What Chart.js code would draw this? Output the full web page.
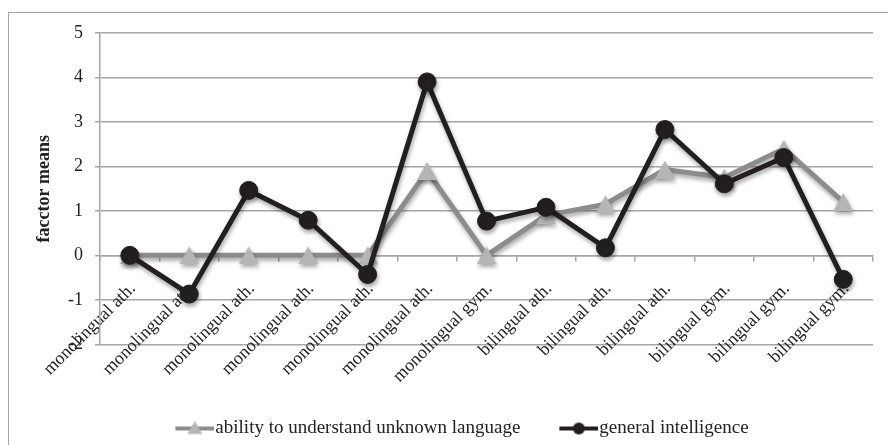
<!DOCTYPE html>
<html>
<head>
<meta charset="utf-8">
<title>facctor means</title>
<script src="https://cdn.jsdelivr.net/npm/chart.js@4.4.1/dist/chart.umd.min.js"></script>
<style>
  html, body { margin: 0; padding: 0; background: #fff; overflow: hidden; }
  #frame { position: absolute; left: 8px; top: 12px; width: 940px; height: 480px; border: 1.5px solid #a3a3a3; }
  #wrap { position: absolute; left: 0; top: 0; width: 888px; height: 445px; }
</style>
</head>
<body>
<div id="frame"></div>
<div id="wrap"><canvas id="chart"></canvas></div>
<script>
'use strict';

// --- data ---
const categories = [
    'monolingual ath.', 'monolingual ath.', 'monolingual ath.', 'monolingual ath.',
    'monolingual ath.', 'monolingual ath.', 'monolingual gym.',
    'bilingual ath.', 'bilingual ath.', 'bilingual ath.',
    'bilingual gym.', 'bilingual gym.', 'bilingual gym.'
];
const abilityValues = [0, 0, 0, 0, 0, 1.9, 0, 0.9, 1.15, 1.93, 1.75, 2.4, 1.2];
const intelligenceValues = [0, -0.87, 1.46, 0.79, -0.43, 3.9, 0.77, 1.08, 0.17, 2.83, 1.61, 2.2, -0.54];
const seriesNames = ['ability to understand unknown language', 'general intelligence'];
const yMin = -2;
const yMax = 5;
const yStep = 1;

const SERIF = '"Liberation Serif", "Times New Roman", serif';
const INK = '#231f20';
const TEXT = '#222222';
const GREY_LINE = '#8c8c8c';
const GREY_MARK = '#b5b5b5';
const GRID = '#a6a6a6';

function drawTriangle(g, cx, cy, w, h) {
    g.fillStyle = GREY_MARK;
    g.beginPath();
    g.moveTo(cx, cy - h / 2);
    g.lineTo(cx + w / 2, cy + h / 2);
    g.lineTo(cx - w / 2, cy + h / 2);
    g.closePath();
    g.fill();
}

function drawDot(g, cx, cy, r) {
    g.fillStyle = INK;
    g.beginPath();
    g.arc(cx, cy, r, 0, Math.PI * 2);
    g.fill();
}

// triangle marker centred on its bounding box (as the original software does)
function triangleMarker() {
    const c = document.createElement('canvas');
    c.width = 20; c.height = 18;
    drawTriangle(c.getContext('2d'), 10, 9, 20, 18);
    return c;
}

// legend swatch: short line with the marker in the middle
function legendSample(lineColor, marker) {
    const c = document.createElement('canvas');
    c.width = 56; c.height = 20;
    const g = c.getContext('2d');
    g.strokeStyle = lineColor;
    g.lineWidth = 4;
    g.beginPath(); g.moveTo(17, 10); g.lineTo(56, 10); g.stroke();
    marker(g, 36.5, 10);
    return c;
}

const greySwatch = legendSample(GREY_LINE, (g, x, y) => drawTriangle(g, x, y - 1, 15, 13));
const inkSwatch = legendSample(INK, (g, x, y) => drawDot(g, x, y, 6));

// soft drop shadow under lines and markers
const markerShadow = {
    id: 'markerShadow',
    beforeDatasetsDraw(chart) {
        const ctx = chart.ctx;
        ctx.save();
        ctx.shadowColor = 'rgba(0,0,0,0.35)';
        ctx.shadowBlur = 4;
        ctx.shadowOffsetX = 1;
        ctx.shadowOffsetY = 3;
    },
    afterDatasetsDraw(chart) {
        chart.ctx.restore();
    }
};

new Chart(document.getElementById('chart'), {
    type: 'line',
    data: {
        labels: categories,
        datasets: [
            {
                label: seriesNames[1],
                data: intelligenceValues,
                borderColor: INK,
                backgroundColor: INK,
                borderWidth: 5,
                borderJoinStyle: 'round',
                pointStyle: 'circle',
                pointRadius: 9,
                pointBackgroundColor: INK,
                pointBorderColor: INK,
                pointBorderWidth: 1,
                tension: 0
            },
            {
                label: seriesNames[0],
                data: abilityValues,
                borderColor: GREY_LINE,
                backgroundColor: GREY_MARK,
                borderWidth: 5,
                borderJoinStyle: 'round',
                pointStyle: triangleMarker(),
                pointRadius: 10,
                tension: 0
            }
        ]
    },
    options: {
        responsive: true,
        maintainAspectRatio: false,
        animation: false,
        layout: { padding: { top: 33, left: 34, right: 6.5, bottom: -3 } },
        scales: {
            x: {
                position: { y: 0 },
                offset: true,
                grid: { offset: true, drawOnChartArea: false, drawTicks: true, tickLength: 5, color: GRID, lineWidth: 1.5 },
                border: { color: GRID, width: 1.5 },
                ticks: {
                    autoSkip: false, maxRotation: 45, minRotation: 45,
                    padding: 18, labelOffset: 3, color: TEXT,
                    font: { family: SERIF, size: 18 }
                },
                // rotated labels hang over the y axis on purpose; don't let them push the plot
                afterFit(scale) {
                    scale.paddingLeft = 0;
                    scale.paddingRight = 0;
                }
            },
            y: {
                min: yMin,
                max: yMax,
                ticks: { stepSize: yStep, padding: 12, color: TEXT, font: { family: SERIF, size: 18 } },
                grid: { color: GRID, lineWidth: 1.5, tickLength: 5 },
                border: { color: GRID, width: 1.5 },
                title: {
                    display: true, text: 'facctor means', color: TEXT,
                    font: { family: SERIF, size: 18, weight: 'bold' },
                    padding: { top: 0, bottom: 0.5 }
                }
            }
        },
        plugins: {
            legend: {
                position: 'bottom',
                title: { display: true, text: '', font: { size: 12 }, padding: { top: 29.8, bottom: 0 } },
                labels: {
                    usePointStyle: true,
                    pointStyleWidth: 39,
                    padding: 30.5,
                    color: TEXT,
                    font: { family: SERIF, size: 19 },
                    generateLabels() {
                        return [
                            { text: seriesNames[0], pointStyle: greySwatch, datasetIndex: 1, fontColor: TEXT, lineWidth: 0, hidden: false, fillStyle: 'transparent', strokeStyle: 'transparent' },
                            { text: seriesNames[1], pointStyle: inkSwatch, datasetIndex: 0, fontColor: TEXT, lineWidth: 0, hidden: false, fillStyle: 'transparent', strokeStyle: 'transparent' }
                        ];
                    }
                }
            },
            tooltip: { enabled: false }
        }
    },
    plugins: [markerShadow]
});
</script>
</body>
</html>
